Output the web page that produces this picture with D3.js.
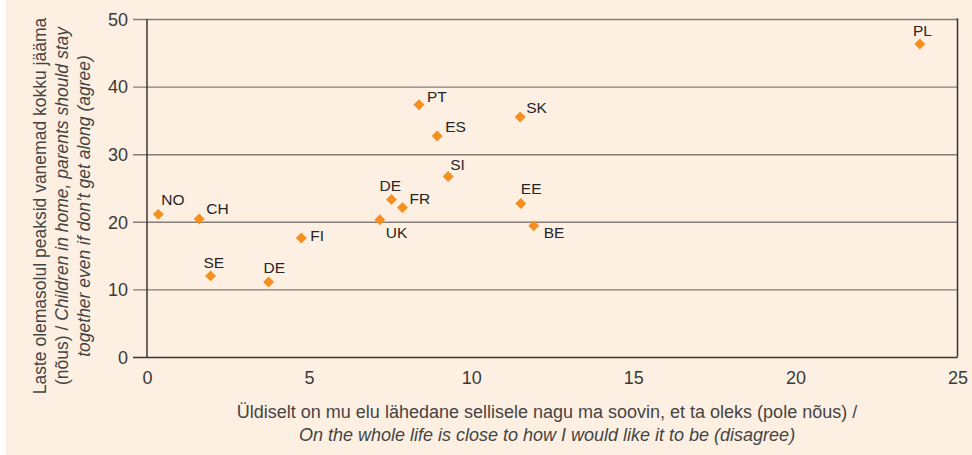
<!DOCTYPE html>
<html>
<head>
<meta charset="utf-8">
<script src="https://cdn.jsdelivr.net/npm/d3@7"></script>
<style>
  html, body { margin: 0; padding: 0; background: #ffffff; }
  svg { display: block; }
</style>
</head>
<body>
<svg id="chart" width="972" height="455"></svg>
<script>
// data
const countries = ['NO', 'CH', 'SE', 'DE', 'FI', 'UK', 'DE', 'FR', 'PT', 'ES', 'SI', 'SK', 'EE', 'BE', 'PL'];
const lifeDisagree = [0.35, 1.61, 1.96, 3.75, 4.76, 7.18, 7.54, 7.88, 8.39, 8.95, 9.29, 11.51, 11.53, 11.93, 23.84];
const stayAgree = [21.1, 20.4, 12.0, 11.1, 17.6, 20.3, 23.3, 22.1, 37.3, 32.7, 26.7, 35.5, 22.7, 19.4, 46.3];
const xTicks = [0, 5, 10, 15, 20, 25];
const yTicks = [0, 10, 20, 30, 40, 50];

// label placement next to each marker (dx, dy from the point)
const labelOffsets = [
  [3, -9], [7, -5], [-7, -8], [-5, -9], [9, 3], [6, 18], [-12, -8], [7, -4],
  [8, -3], [8, -4], [2, -7], [6, -4], [0, -10], [10, 12], [-7, -8]
];

const svg = d3.select('#chart');
const W = 972, H = 455;
const margin = { left: 147, right: 14, top: 19, bottom: 98 };

const panel = '#fdf0e2';
const orange = '#f39020';
const axisColor = '#3b3735';
const gridColor = '#857d77';
const textColor = '#3a3a3a';
const sans = '"Liberation Sans", Arial, Helvetica, sans-serif';

svg.append('rect')
  .attr('x', 6).attr('y', 0)
  .attr('width', W - 6).attr('height', H)
  .attr('fill', panel);

const x = d3.scaleLinear().domain([0, 25]).range([margin.left, W - margin.right - 0.5]);
const y = d3.scaleLinear().domain([0, 50]).range([H - margin.bottom, margin.top]);

// horizontal grid lines, extending left of the axis like tick marks
const yAxis = d3.axisLeft(y)
  .tickValues(yTicks)
  .tickSize(-(x(25) - x(0)))
  .tickSizeOuter(0)
  .tickPadding(6)
  .tickFormat(d3.format('d'));

const gy = svg.append('g')
  .attr('transform', `translate(${x(0)},0)`)
  .call(yAxis);
gy.select('.domain').remove();
gy.selectAll('.tick line')
  .attr('x1', -14)
  .attr('stroke', (d) => (d === 0 ? axisColor : gridColor))
  .attr('stroke-width', 1.4);
gy.selectAll('.tick text')
  .attr('x', -19)
  .attr('dy', '0.35em')
  .style('font-family', sans)
  .style('font-size', '18px')
  .attr('fill', textColor);

// x axis: labels only
const xAxis = d3.axisBottom(x)
  .tickValues(xTicks)
  .tickSize(0)
  .tickPadding(12)
  .tickFormat(d3.format('d'));

const gx = svg.append('g')
  .attr('transform', `translate(0,${y(0)})`)
  .call(xAxis);
gx.select('.domain').remove();
gx.selectAll('.tick text')
  .attr('dy', '0.85em')
  .style('font-family', sans)
  .style('font-size', '18px')
  .attr('fill', textColor);

// y axis line and right frame
svg.append('line')
  .attr('x1', x(0)).attr('x2', x(0))
  .attr('y1', y(50)).attr('y2', y(0))
  .attr('stroke', axisColor).attr('stroke-width', 1.5);
svg.append('line')
  .attr('x1', x(25)).attr('x2', x(25))
  .attr('y1', y(50) - 0.7).attr('y2', y(0))
  .attr('stroke', axisColor).attr('stroke-width', 1.5);

// markers
const points = countries.map((c, i) => ({ c, x: lifeDisagree[i], y: stayAgree[i], off: labelOffsets[i] }));

svg.append('g')
  .selectAll('path')
  .data(points)
  .join('path')
  .attr('d', d3.symbol(d3.symbolSquare, 60))
  .attr('transform', (d) => `translate(${x(d.x)},${y(d.y)}) rotate(45)`)
  .attr('fill', orange);

svg.append('g')
  .selectAll('text')
  .data(points)
  .join('text')
  .attr('x', (d) => x(d.x) + d.off[0])
  .attr('y', (d) => y(d.y) + d.off[1])
  .text((d) => d.c)
  .style('font-family', sans)
  .style('font-size', '15.5px')
  .attr('fill', '#262626');

// x axis title
const xTitle = svg.append('text')
  .attr('text-anchor', 'middle')
  .style('font-family', sans)
  .style('font-size', '18px')
  .attr('fill', '#444');
xTitle.append('tspan')
  .attr('x', 547).attr('y', 418)
  .text('Üldiselt on mu elu lähedane sellisele nagu ma soovin, et ta oleks (pole nõus) /');
xTitle.append('tspan')
  .attr('x', 547).attr('y', 441)
  .style('font-style', 'italic')
  .text('On the whole life is close to how I would like it to be (disagree)');

// y axis title, three lines rotated
const yTitle = svg.append('text')
  .attr('transform', 'translate(0,206) rotate(-90)')
  .attr('text-anchor', 'middle')
  .style('font-family', sans)
  .style('font-size', '17.5px')
  .attr('fill', '#444');
yTitle.append('tspan')
  .attr('x', 0).attr('y', 46)
  .text('Laste olemasolul peaksid vanemad kokku jääma');
const l2 = yTitle.append('tspan')
  .attr('x', 0).attr('y', 68);
l2.append('tspan').text('(nõus) / ');
l2.append('tspan').style('font-style', 'italic').text('Children in home, parents should stay');
yTitle.append('tspan')
  .attr('x', 0).attr('y', 90)
  .style('font-style', 'italic')
  .text('together even if don\u2019t get along (agree)');
</script>
</body>
</html>
